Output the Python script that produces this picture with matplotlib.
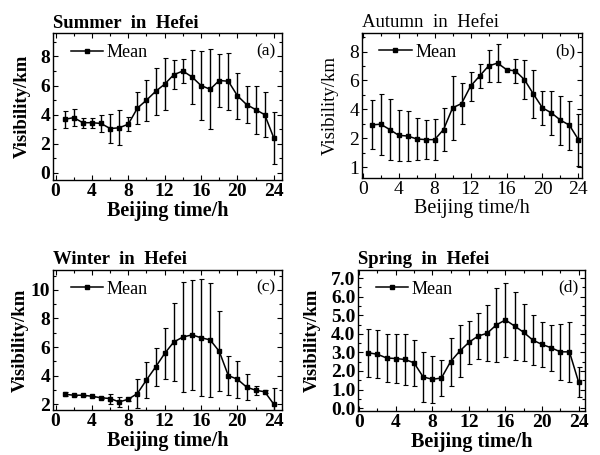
import matplotlib
matplotlib.use("Agg")
import matplotlib.pyplot as plt
from matplotlib.lines import Line2D
from matplotlib.ticker import MultipleLocator, FixedLocator, FixedFormatter

plt.rcParams['font.family'] = ['Liberation Serif', 'DejaVu Serif']

hours = list(range(1, 25))

# summer (a)
summer_mean = [3.68, 3.8, 3.45, 3.45, 3.4, 3.05, 3.1, 3.35, 4.45, 5.0, 5.6, 6.1,
               6.75, 7.0, 6.6, 6.0, 5.75, 6.35, 6.3, 5.3, 4.7, 4.35, 4.0, 2.4]
summer_err = [0.6, 0.6, 0.35, 0.35, 0.6, 1.0, 1.2, 0.5, 1.1, 1.4, 1.6, 1.8,
              1.0, 0.85, 1.85, 2.35, 2.75, 1.8, 1.95, 1.6, 1.3, 1.65, 1.55, 1.8]

# autumn (b)
autumn_mean = [2.92, 2.97, 2.6, 2.2, 2.15, 1.95, 1.9, 1.9, 2.6, 4.1, 4.4, 5.6,
               6.3, 7.0, 7.2, 6.75, 6.65, 6.05, 5.05, 4.1, 3.75, 3.25, 2.9, 1.9]
autumn_err = [1.7, 2.1, 2.1, 1.75, 1.75, 1.45, 1.35, 1.4, 1.5, 2.2, 1.4, 1.0,
              0.85, 1.1, 1.3, 0.0, 0.85, 1.35, 1.65, 1.2, 1.5, 1.7, 1.7, 1.8]

# winter (c)
winter_mean = [2.7, 2.63, 2.63, 2.56, 2.45, 2.4, 2.16, 2.35, 2.75, 3.7, 4.6, 5.55,
               6.35, 6.7, 6.85, 6.65, 6.5, 5.7, 4.0, 3.75, 3.2, 2.98, 2.87, 2.0]
winter_err = [0.15, 0.05, 0.05, 0.05, 0.08, 0.35, 0.35, 0.1, 1.0, 1.25, 1.3, 1.8,
              2.7, 3.85, 3.85, 4.1, 4.0, 2.8, 1.35, 1.3, 0.9, 0.3, 0.1, 1.15]

# spring (d)
spring_mean = [2.98, 2.9, 2.7, 2.67, 2.62, 2.44, 1.68, 1.55, 1.62, 2.5, 3.07, 3.54,
               3.88, 4.03, 4.48, 4.75, 4.42, 4.08, 3.66, 3.43, 3.25, 3.03, 3.03, 1.4]
spring_err = [1.3, 1.3, 1.3, 1.3, 1.35, 1.25, 1.33, 1.25, 0.95, 1.3, 1.4, 1.15,
              1.25, 1.5, 2.0, 2.0, 1.85, 1.55, 1.35, 1.2, 1.25, 1.5, 1.6, 0.8]

x_ticks = [0, 4, 8, 12, 16, 20, 24]

fig = plt.figure(figsize=(6, 4.55), dpi=100)

panels = [
    # rect, title, tag, mean, err, ylim, yticks, yticklabels, minor, bold, xlim, ylabel pad
    ([0.088, 0.604, 0.382, 0.323], 'Summer  in  Hefei', '(a)', summer_mean, summer_err,
     (-0.5, 9.6), [0, 2, 4, 6, 8], ['0', '2', '4', '6', '8'], 1, True, (-0.3, 24.9), 7),
    ([0.603, 0.609, 0.367, 0.319], 'Autumn  in  Hefei', '(b)', autumn_mean, autumn_err,
     (-0.75, 9.3), [0, 2, 4, 6, 8], ['1', '2', '4', '6', '8'], 1, False, (-0.1, 24.4), 7.5),
    ([0.088, 0.099, 0.382, 0.308], 'Winter  in  Hefei', '(c)', winter_mean, winter_err,
     (1.6, 11.4), [2, 4, 6, 8, 10], ['2', '4', '6', '8', '10'], 1, True, (-0.3, 24.9), 1),
    ([0.597, 0.097, 0.378, 0.31], 'Spring  in  Hefei', '(d)', spring_mean, spring_err,
     (-0.15, 7.45), [0, 1, 2, 3, 4, 5, 6, 7],
     ['0.0', '1.0', '2.0', '3.0', '4.0', '5.0', '6.0', '7.0'], 0.5, True, (-0.1, 24.7), 7.5),
]

for rect, title, tag, mean, err, ylim, yticks, ylabels, minor, bold, xlim, ypad in panels:
    ax = fig.add_axes(rect)
    weight = 'bold' if bold else 'normal'
    ax.errorbar(hours, mean, yerr=err, color='black', lw=1.1, elinewidth=1.0,
                capsize=1.8, capthick=0.8, marker='s', markersize=3)
    ax.set_xlim(*xlim)
    ax.set_ylim(*ylim)
    ax.xaxis.set_major_locator(FixedLocator(x_ticks))
    ax.xaxis.set_minor_locator(MultipleLocator(2))
    ax.yaxis.set_major_locator(FixedLocator(yticks))
    ax.yaxis.set_major_formatter(FixedFormatter(ylabels))
    ax.yaxis.set_minor_locator(MultipleLocator(minor))
    ax.tick_params(which='both', direction='in', top=True, right=True, width=0.8)
    ax.tick_params(which='major', length=3.5, pad=2)
    ax.tick_params(which='minor', length=2)
    for lbl in ax.get_xticklabels() + ax.get_yticklabels():
        lbl.set_fontsize(14)
        lbl.set_fontweight(weight)
    for sp in ax.spines.values():
        sp.set_linewidth(1.0)
    ax.set_xlabel('Beijing time/h', fontsize=14.5, fontweight=weight, labelpad=1)
    ax.set_ylabel('Visibility/km', fontsize=13.5, fontweight=weight, labelpad=ypad)
    ax.set_title(title, loc='left', fontsize=13.5, fontweight=weight, pad=4)
    ax.text(0.97, 0.93, tag, transform=ax.transAxes, ha='right', va='top', fontsize=12.5)
    handle = Line2D([], [], color='black', lw=1.1, marker='s', markersize=3)
    ax.legend([handle], ['Mean'], loc='upper left', frameon=False, fontsize=13,
              handlelength=1.8, handletextpad=0.2, borderaxespad=0.2,
              bbox_to_anchor=(0.03, 1.0))

fig.savefig('out.png', dpi=100)
